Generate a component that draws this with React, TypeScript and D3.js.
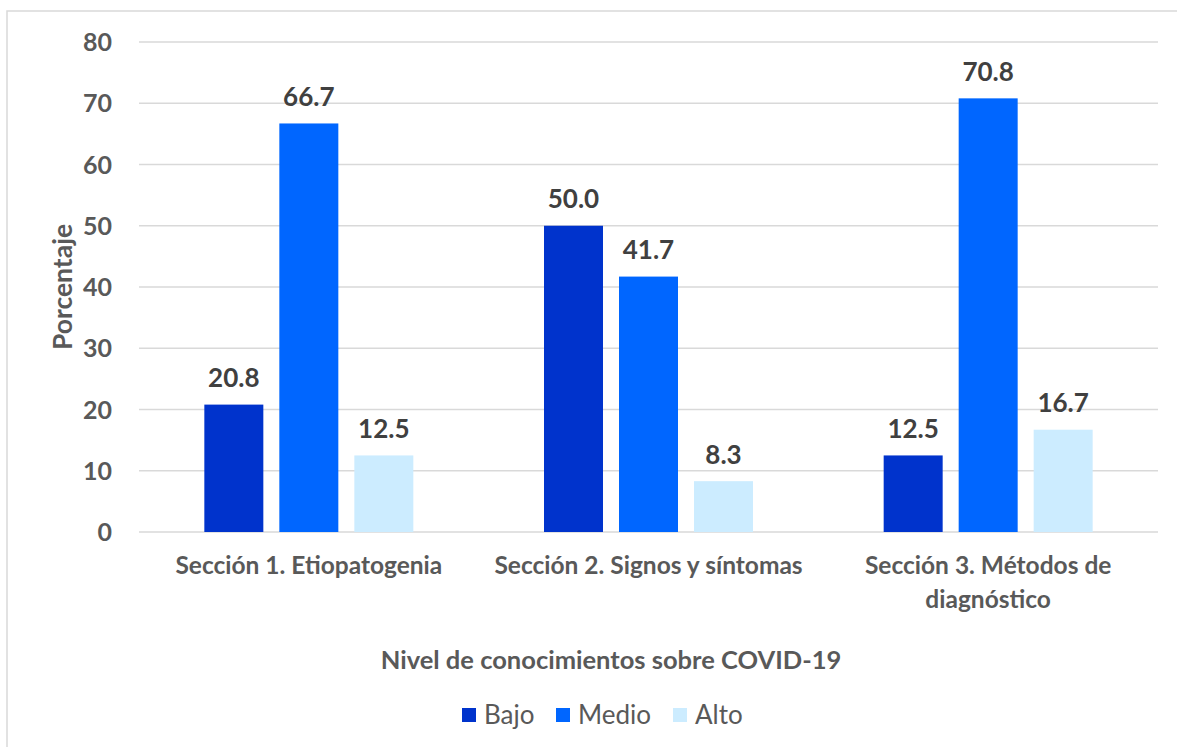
import React from "react";
import * as d3 from "d3";

const categories = ["Sección 1. Etiopatogenia", "Sección 2. Signos y síntomas", "Sección 3. Métodos de diagnóstico"];
const categoryLines = [["Sección 1. Etiopatogenia"], ["Sección 2. Signos y síntomas"], ["Sección 3. Métodos de", "diagnóstico"]];
const seriesNames = ["Bajo", "Medio", "Alto"];
const bajo = [20.8, 50.0, 12.5];
const medio = [66.7, 41.7, 70.8];
const alto = [12.5, 8.3, 16.7];
const yTicks = [0, 10, 20, 30, 40, 50, 60, 70, 80];
const colors = ["#0033CC", "#0066FF", "#CCECFF"];

const W = 1177, H = 747;
const FONT = "Lato, 'Open Sans', sans-serif";

export default function App() {
  const series = [bajo, medio, alto];
  const left = 139, right = 1158, top = 42, bottom = 532;
  const x0 = d3.scaleBand<string>().domain(categories).range([left, right]).paddingInner(0).paddingOuter(0);
  const groupW = x0.bandwidth();
  const barW = 59, gap = 16;
  const x1 = d3.scaleBand<string>().domain(seriesNames).range([0, 3 * barW + 2 * gap]).paddingInner(gap / (barW + gap)).paddingOuter(0);
  const y = d3.scaleLinear().domain([0, 80]).range([bottom, top]);
  const offset = (groupW - (3 * barW + 2 * gap)) / 2;

  return (
    <svg width={W} height={H} style={{ position: "absolute", left: 0, top: 0, background: "#fff" }}>
      <rect x={7} y={11} width={W + 10} height={H + 10} fill="#fff" stroke="#d9d9d9" strokeWidth={1.5} />
      {yTicks.map((t) => (
        <g key={t}>
          <line x1={left} x2={right} y1={y(t)} y2={y(t)} stroke="#d9d9d9" strokeWidth={1.5} />
          <text x={112} y={y(t)} dy="0.36em" textAnchor="end" fontFamily={FONT} fontWeight={700} fontSize={25} fill="#595959">{t}</text>
        </g>
      ))}
      {categories.map((c, ci) => (
        <g key={c} transform={`translate(${(x0(c) as number) + offset},0)`}>
          {series.map((s, si) => {
            const bx = x1(seriesNames[si]) as number;
            return (
              <g key={si}>
                <rect x={bx} y={y(s[ci])} width={x1.bandwidth()} height={bottom - y(s[ci])} fill={colors[si]} />
                <text x={bx + x1.bandwidth() / 2} y={y(s[ci]) - 27} dy="0.36em" textAnchor="middle" fontFamily={FONT} fontWeight={700} fontSize={26} fill="#404040">{s[ci].toFixed(1)}</text>
              </g>
            );
          })}
        </g>
      ))}
      {categories.map((c, ci) => (
        <text key={c} x={(x0(c) as number) + groupW / 2} y={565} textAnchor="middle" fontFamily={FONT} fontWeight={700} fontSize={24.5} fill="#595959">
          {categoryLines[ci].map((l, li) => (
            <tspan key={li} x={(x0(c) as number) + groupW / 2} dy={li === 0 ? "0.36em" : 34}>{l}</tspan>
          ))}
        </text>
      ))}
      <text transform={`translate(62,287) rotate(-90)`} dy="0.36em" textAnchor="middle" fontFamily={FONT} fontWeight={700} fontSize={26.5} fill="#595959">Porcentaje</text>
      <text x={611} y={660} dy="0.36em" textAnchor="middle" fontFamily={FONT} fontWeight={700} fontSize={25.5} fill="#595959">Nivel de conocimientos sobre COVID-19</text>
      {seriesNames.map((n, i) => {
        const lx = [462, 556, 673][i];
        return (
          <g key={n}>
            <rect x={lx} y={708} width={14} height={14} fill={colors[i]} />
            <text x={lx + 22} y={715} dy="0.36em" fontFamily={FONT} fontSize={26} fill="#595959">{n}</text>
          </g>
        );
      })}
    </svg>
  );
}
